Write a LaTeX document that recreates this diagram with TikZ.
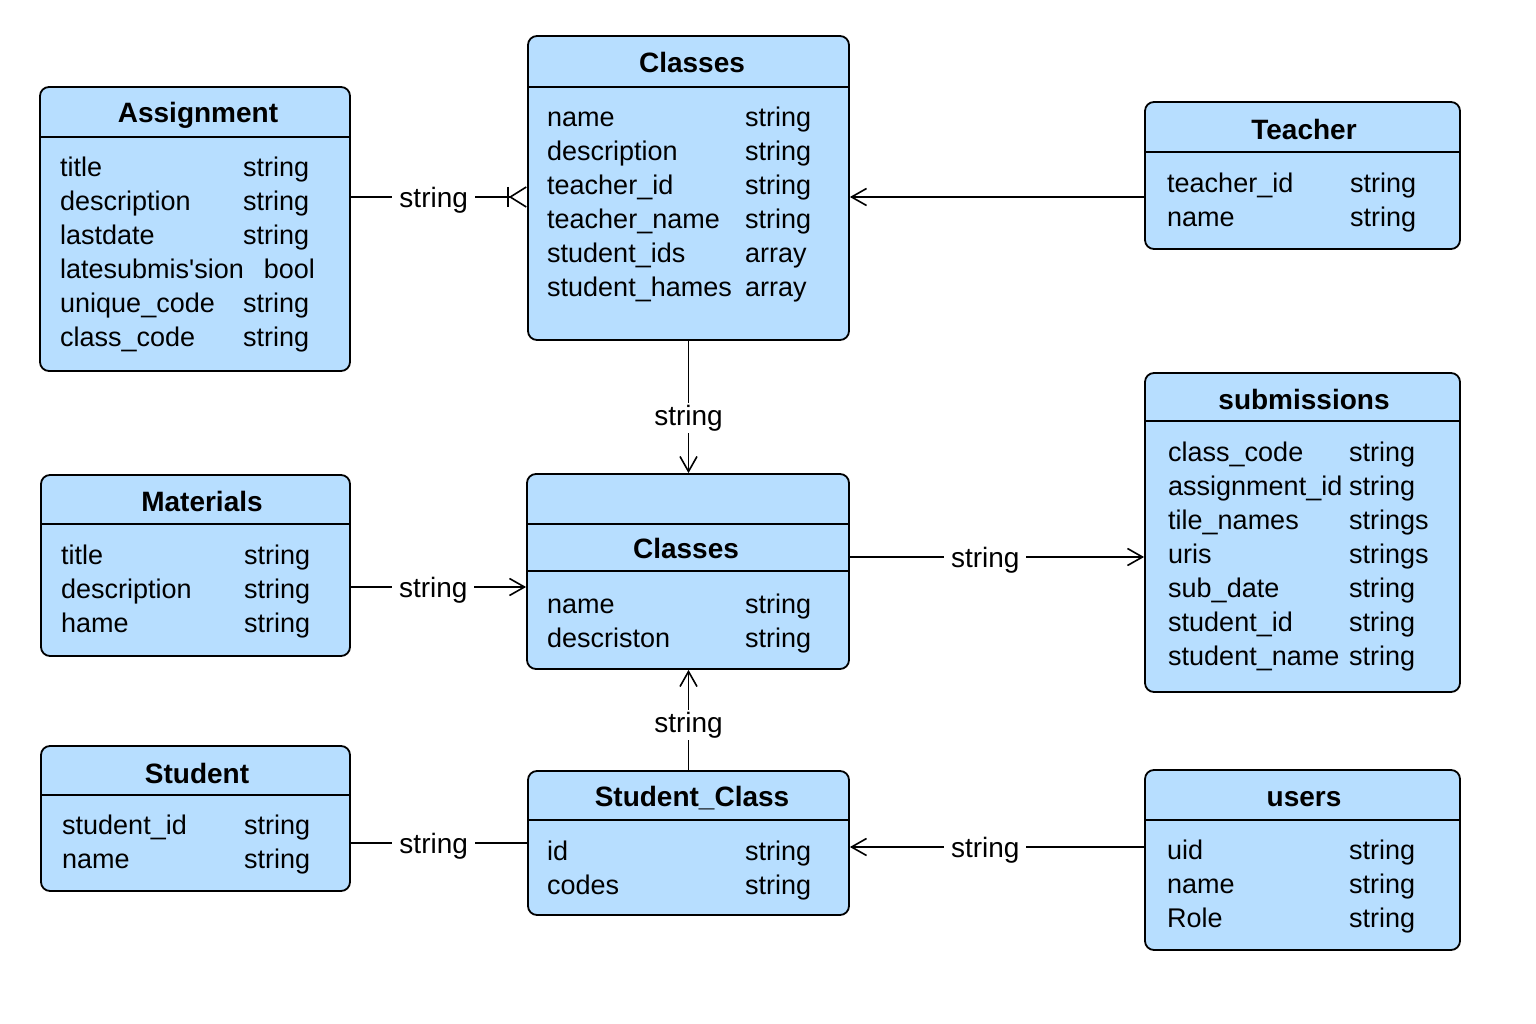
\documentclass[tikz,border=0pt]{standalone}
\usepackage{fontspec}
\setmainfont{Liberation Sans}
\usetikzlibrary{arrows.meta,positioning}
\definecolor{entblue}{RGB}{183,222,255}

\begin{document}
\begin{tikzpicture}[x=1pt, y=-1pt, >={Straight Barb[length=15pt,width=17pt]},
  entity/.style={draw, line width=1.8pt, fill=entblue, rounded corners=9pt, inner sep=0pt},
  etitle/.style={anchor=base, inner sep=0pt, font=\fontsize{28}{34}\selectfont\bfseries},
  attrs/.style={anchor=base west, inner sep=0pt, font=\fontsize{27}{34}\selectfont},
  lbl/.style={fill=white, inner xsep=7pt, inner ysep=2pt, yshift=-3pt, font=\fontsize{28}{34}\selectfont},
  conn/.style={line width=1.6pt}]
  \useasboundingbox (0,0) rectangle (1536,1024);

  % Assignment
  \node[entity, minimum width=310pt, minimum height=284pt] (asg) at (195,229) {};
  \draw[line width=1.8pt] (asg.west |- 0,137) -- (asg.east |- 0,137);
  \node[etitle] (asgT) at (198,123) {Assignment};
  \node[attrs] (asgA) at (60,177) {\begin{tabular}[t]{@{}p{183pt}@{}l@{}}
    title & string\\
    description & string\\
    lastdate & string\\
    \multicolumn{2}{@{}l@{}}{latesubmis\textquotesingle sion\hspace{20pt}bool}\\
    unique\_code & string\\
    class\_code & string
  \end{tabular}};

  % Classes (top)
  \node[entity, minimum width=321pt, minimum height=304pt] (clsA) at (688.5,188) {};
  \draw[line width=1.8pt] (clsA.west |- 0,87) -- (clsA.east |- 0,87);
  \node[etitle] (clsAT) at (692,73) {Classes};
  \node[attrs] (clsAA) at (547,127) {\begin{tabular}[t]{@{}p{198pt}@{}l@{}}
    name & string\\
    description & string\\
    teacher\_id & string\\
    teacher\_name & string\\
    student\_ids & array\\
    student\_hames & array
  \end{tabular}};

  % Teacher
  \node[entity, minimum width=315pt, minimum height=147pt] (tch) at (1302.5,175.5) {};
  \draw[line width=1.8pt] (tch.west |- 0,152) -- (tch.east |- 0,152);
  \node[etitle] (tchT) at (1304,140) {Teacher};
  \node[attrs] (tchA) at (1167,193) {\begin{tabular}[t]{@{}p{183pt}@{}l@{}}
    teacher\_id & string\\
    name & string
  \end{tabular}};

  % submissions
  \node[entity, minimum width=315pt, minimum height=319pt] (sub) at (1302.5,532.5) {};
  \draw[line width=1.8pt] (sub.west |- 0,421) -- (sub.east |- 0,421);
  \node[etitle] (subT) at (1304,409) {submissions};
  \node[attrs] (subA) at (1168,461) {\begin{tabular}[t]{@{}p{181pt}@{}l@{}}
    class\_code & string\\
    assignment\_id & string\\
    tile\_names & strings\\
    uris & strings\\
    sub\_date & string\\
    student\_id & string\\
    student\_name & string
  \end{tabular}};

  % Materials
  \node[entity, minimum width=309pt, minimum height=181pt] (mat) at (195.5,565.5) {};
  \draw[line width=1.8pt] (mat.west |- 0,524) -- (mat.east |- 0,524);
  \node[etitle] (matT) at (202,511) {Materials};
  \node[attrs] (matA) at (61,564) {\begin{tabular}[t]{@{}p{183pt}@{}l@{}}
    title & string\\
    description & string\\
    hame & string
  \end{tabular}};

  % Classes (middle)
  \node[entity, minimum width=322pt, minimum height=195pt] (clsB) at (688,571.5) {};
  \draw[line width=1.8pt] (clsB.west |- 0,524) -- (clsB.east |- 0,524);
  \draw[line width=1.8pt] (clsB.west |- 0,571) -- (clsB.east |- 0,571);
  \node[etitle] (clsBT) at (686,558) {Classes};
  \node[attrs] (clsBA) at (547,613) {\begin{tabular}[t]{@{}p{198pt}@{}l@{}}
    name & string\\
    descriston & string
  \end{tabular}};

  % Student
  \node[entity, minimum width=309pt, minimum height=145pt] (stu) at (195.5,818.5) {};
  \draw[line width=1.8pt] (stu.west |- 0,795) -- (stu.east |- 0,795);
  \node[etitle] (stuT) at (197,783) {Student};
  \node[attrs] (stuA) at (62,834) {\begin{tabular}[t]{@{}p{182pt}@{}l@{}}
    student\_id & string\\
    name & string
  \end{tabular}};

  % Student_Class
  \node[entity, minimum width=321pt, minimum height=144pt] (sc) at (688.5,843) {};
  \draw[line width=1.8pt] (sc.west |- 0,820) -- (sc.east |- 0,820);
  \node[etitle] (scT) at (692,806) {Student\_Class};
  \node[attrs] (scA) at (547,860) {\begin{tabular}[t]{@{}p{198pt}@{}l@{}}
    id & string\\
    codes & string
  \end{tabular}};

  % users
  \node[entity, minimum width=315pt, minimum height=180pt] (usr) at (1302.5,860) {};
  \draw[line width=1.8pt] (usr.west |- 0,820) -- (usr.east |- 0,820);
  \node[etitle] (usrT) at (1304,806) {users};
  \node[attrs] (usrA) at (1167,859) {\begin{tabular}[t]{@{}p{182pt}@{}l@{}}
    uid & string\\
    name & string\\
    Role & string
  \end{tabular}};

  % Relations
  \draw[conn, -{Bar[width=20pt] Straight Barb[reversed,length=16pt,width=20pt]}] (asg.east |- 0,197) -- node[lbl, pos=0.47] {string} (clsA.west |- 0,197);
  \draw[conn, ->] (clsA.south) -- node[lbl, pos=0.56] {string} (clsA.south |- clsB.north);
  \draw[conn, ->] (tch.west |- 0,197) -- (clsA.east |- 0,197);
  \draw[conn, ->] (mat.east |- 0,587) -- node[lbl, pos=0.47] {string} (clsB.west |- 0,587);
  \draw[conn, ->] (clsB.east |- 0,557) -- node[lbl, pos=0.46] {string} (sub.west |- 0,557);
  \draw[conn, ->] (sc.north) -- node[lbl, pos=0.48] {string} (sc.north |- clsB.south);
  \draw[conn] (stu.east |- 0,843) -- node[lbl, pos=0.47] {string} (sc.west |- 0,843);
  \draw[conn, ->] (usr.west |- 0,847) -- node[lbl, pos=0.54] {string} (sc.east |- 0,847);
\end{tikzpicture}
\end{document}
